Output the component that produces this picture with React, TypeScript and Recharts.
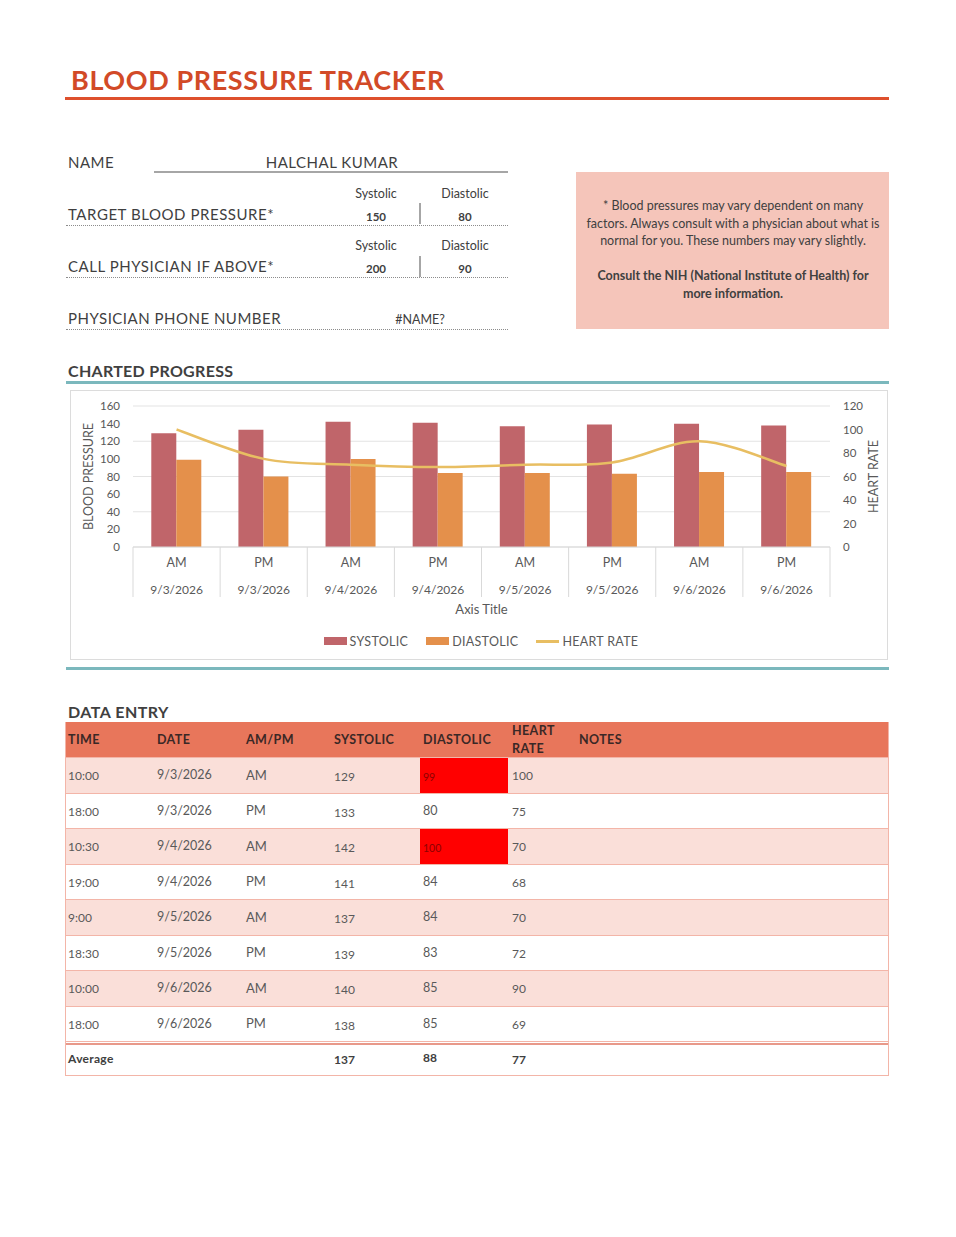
import React from "react";
import {
  ComposedChart,
  Bar,
  Line,
  XAxis,
  YAxis,
  CartesianGrid,
  Legend,
} from "recharts";

// readings
const times = ["10:00", "18:00", "10:30", "19:00", "9:00", "18:30", "10:00", "18:00"];
const dates = ["9/3/2026", "9/3/2026", "9/4/2026", "9/4/2026", "9/5/2026", "9/5/2026", "9/6/2026", "9/6/2026"];
const ampm = ["AM", "PM", "AM", "PM", "AM", "PM", "AM", "PM"];
const systolic = [129, 133, 142, 141, 137, 139, 140, 138];
const diastolic = [99, 80, 100, 84, 84, 83, 85, 85];
const heartRate = [100, 75, 70, 68, 70, 72, 90, 69];
const averages = [137, 88, 77];

const bpTicks = [0, 20, 40, 60, 80, 100, 120, 140, 160];
const hrTicks = [0, 20, 40, 60, 80, 100, 120];

const target = { systolic: 150, diastolic: 80 };
const callAbove = { systolic: 200, diastolic: 90 };

const headers = ["TIME", "DATE", "AM/PM", "SYSTOLIC", "DIASTOLIC", "HEART RATE", "NOTES"];

const SYS_COLOR = "#C0656A";
const DIA_COLOR = "#E4904B";
const HR_COLOR = "#E8BE62";
const FONT = "Lato, 'Open Sans', sans-serif";

const chartData = dates.map((d, i) => ({
  cat: `${d} ${ampm[i]}`,
  systolic: systolic[i],
  diastolic: diastolic[i],
  heart: heartRate[i],
}));

const legendItems = [
  { name: "SYSTOLIC", color: SYS_COLOR, kind: "rect" },
  { name: "DIASTOLIC", color: DIA_COLOR, kind: "rect" },
  { name: "HEART RATE", color: HR_COLOR, kind: "line" },
];

// Excel-style smoothed line (Catmull-Rom as cubic beziers)
function excelSmooth(context: any) {
  let pts: number[][] = [];
  return {
    areaStart() {},
    areaEnd() {},
    lineStart() {
      pts = [];
    },
    point(x: number, y: number) {
      pts.push([+x, +y]);
    },
    lineEnd() {
      if (!pts.length) return;
      context.moveTo(pts[0][0], pts[0][1]);
      for (let i = 0; i < pts.length - 1; i++) {
        const p0 = pts[i - 1] || pts[i];
        const p1 = pts[i];
        const p2 = pts[i + 1];
        const p3 = pts[i + 2] || p2;
        context.bezierCurveTo(
          p1[0] + (p2[0] - p0[0]) / 6,
          p1[1] + (p2[1] - p0[1]) / 6,
          p2[0] - (p3[0] - p1[0]) / 6,
          p2[1] - (p3[1] - p1[1]) / 6,
          p2[0],
          p2[1]
        );
      }
    },
  };
}

type TxtProps = {
  x: number;
  y: number;
  size?: number;
  weight?: number;
  color?: string;
  align?: "left" | "center";
  ls?: number;
  children: React.ReactNode;
};

function Txt({ x, y, size = 13, weight = 400, color = "#404040", align = "left", ls = 0, children }: TxtProps) {
  const lh = Math.round(size * 1.3);
  return (
    <div
      style={{
        position: "absolute",
        left: align === "center" ? x - 200 : x,
        width: align === "center" ? 400 : undefined,
        top: y - lh / 2,
        fontSize: size,
        lineHeight: `${lh}px`,
        fontWeight: weight,
        color,
        letterSpacing: ls,
        textAlign: align,
        whiteSpace: "nowrap",
      }}
    >
      {children}
    </div>
  );
}

function Rule({ x, y, w, h = 1, color, dotted = false }: { x: number; y: number; w: number; h?: number; color: string; dotted?: boolean }) {
  return (
    <div
      style={{
        position: "absolute",
        left: x,
        top: y,
        width: w,
        height: dotted ? 0 : h,
        background: dotted ? undefined : color,
        borderTop: dotted ? `1px dotted ${color}` : undefined,
      }}
    />
  );
}

function CategoryTick(props: any) {
  const { x, y, payload, index } = props;
  const half = payload && payload.offset ? payload.offset : 43.5;
  return (
    <g>
      <line x1={x - half} x2={x - half} y1={y} y2={y + 50} stroke="#D9D9D9" />
      {index === ampm.length - 1 && (
        <line x1={x + half} x2={x + half} y1={y} y2={y + 50} stroke="#D9D9D9" />
      )}
      <text x={x} y={y + 20} textAnchor="middle" fill="#595959" fontSize={12.5}>
        {ampm[index]}
      </text>
      <text x={x} y={y + 47} textAnchor="middle" fill="#595959" fontSize={12}>
        {dates[index]}
      </text>
    </g>
  );
}

function ChartLegend() {
  return (
    <div
      style={{
        display: "flex",
        justifyContent: "center",
        alignItems: "center",
        height: 30,
        fontFamily: FONT,
        fontSize: 12.5,
        color: "#595959",
        paddingLeft: 4,
      }}
    >
      {legendItems.map((it, i) => (
        <div
          key={it.name}
          style={{ display: "flex", alignItems: "center", marginRight: i === legendItems.length - 1 ? 0 : 18 }}
        >
          <div
            style={{
              width: 23,
              height: it.kind === "rect" ? 8 : 3,
              background: it.color,
              marginRight: 3,
            }}
          />
          <span style={{ letterSpacing: 0.3 }}>{it.name}</span>
        </div>
      ))}
    </div>
  );
}

function BPChart() {
  return (
    <ComposedChart
      width={818}
      height={270}
      data={chartData}
      margin={{ top: 16, right: 0, left: 0, bottom: 4 }}
      barCategoryGap="21%"
      barGap={0}
      style={{ fontFamily: FONT }}
    >
      <CartesianGrid vertical={false} stroke="#E3E3E3" yAxisId="bp" />
      <XAxis
        dataKey="cat"
        height={79}
        interval={0}
        tickSize={0}
        tickMargin={0}
        axisLine={{ stroke: "#D9D9D9" }}
        tickLine={false}
        tick={<CategoryTick />}
        label={{ value: "Axis Title", position: "insideBottom", offset: 12, fill: "#595959", fontSize: 13 }}
      />
      <YAxis
        yAxisId="bp"
        width={63}
        domain={[0, 160]}
        ticks={bpTicks}
        axisLine={false}
        tickLine={false}
        tickSize={0}
        tickMargin={13}
        tick={{ fill: "#595959", fontSize: 11.5 }}
        label={{
          value: "BLOOD PRESSURE",
          angle: -90,
          position: "insideLeft",
          offset: 19,
          fill: "#595959",
          fontSize: 12.5,
          style: { textAnchor: "middle" },
        }}
      />
      <YAxis
        yAxisId="hr"
        orientation="right"
        width={58}
        domain={[0, 120]}
        ticks={hrTicks}
        axisLine={false}
        tickLine={false}
        tickSize={0}
        tickMargin={13}
        tick={{ fill: "#595959", fontSize: 11.5 }}
        label={{
          value: "HEART RATE",
          angle: -90,
          position: "insideRight",
          offset: 14,
          fill: "#595959",
          fontSize: 12.5,
          style: { textAnchor: "middle" },
        }}
      />
      <Bar yAxisId="bp" dataKey="systolic" name="SYSTOLIC" fill={SYS_COLOR} isAnimationActive={false} />
      <Bar yAxisId="bp" dataKey="diastolic" name="DIASTOLIC" fill={DIA_COLOR} isAnimationActive={false} />
      <Line
        yAxisId="hr"
        dataKey="heart"
        name="HEART RATE"
        type={excelSmooth as any}
        stroke={HR_COLOR}
        strokeWidth={2.5}
        dot={false}
        activeDot={false}
        isAnimationActive={false}
      />
      <Legend verticalAlign="bottom" height={30} content={() => <ChartLegend />} />
    </ComposedChart>
  );
}

const colX = [68, 157, 246, 334, 423, 512, 579];
const HEAD_TOP = 722;
const HEAD_H = 35;
const ROW_H = 35.5;
const TABLE_L = 65;
const TABLE_W = 824;
const ROW_LINE = "#F3B5A8";

function DataTable() {
  const rowsTop = HEAD_TOP + HEAD_H;
  const avgTop = rowsTop + ROW_H * times.length + 2;
  return (
    <>
      <div style={{ position: "absolute", left: TABLE_L, top: HEAD_TOP, width: TABLE_W, height: HEAD_H, background: "#E8765B" }} />
      {headers.map((h, i) =>
        h === "HEART RATE" ? (
          <React.Fragment key={h}>
            <Txt x={colX[i]} y={731} size={12.5} weight={700} color="#3A2826" ls={0.4}>HEART</Txt>
            <Txt x={colX[i]} y={749} size={12.5} weight={700} color="#3A2826" ls={0.4}>RATE</Txt>
          </React.Fragment>
        ) : (
          <Txt key={h} x={colX[i]} y={740} size={12.5} weight={700} color="#3A2826" ls={0.4}>{h}</Txt>
        )
      )}
      {times.map((t, i) => {
        const top = rowsTop + i * ROW_H;
        const cy = top + 19;
        const diaHigh = diastolic[i] > callAbove.diastolic;
        const sysHigh = systolic[i] > callAbove.systolic;
        return (
          <React.Fragment key={i}>
            <div
              style={{
                position: "absolute",
                left: TABLE_L,
                top,
                width: TABLE_W,
                height: ROW_H,
                background: i % 2 === 0 ? "#FADFD9" : "#FFFFFF",
                borderTop: `1px solid ${ROW_LINE}`,
                boxSizing: "border-box",
              }}
            />
            {sysHigh && (
              <div style={{ position: "absolute", left: 331, top: top + 1, width: 89, height: ROW_H - 1, background: "#FF0000" }} />
            )}
            {diaHigh && (
              <div style={{ position: "absolute", left: 420, top: top + 1, width: 88, height: ROW_H - 1, background: "#FF0000" }} />
            )}
            <Txt x={colX[0]} y={cy} size={12} color="#595959">{t}</Txt>
            <Txt x={colX[1]} y={cy - 1} size={12.5} color="#595959">{dates[i]}</Txt>
            <Txt x={colX[2]} y={cy - 1} size={13} color="#595959">{ampm[i]}</Txt>
            <Txt x={colX[3]} y={cy + 1} size={12} color="#595959">{systolic[i]}</Txt>
            {diaHigh ? (
              <Txt x={colX[4]} y={cy + 1} size={10.5} color="#8E0000">{diastolic[i]}</Txt>
            ) : (
              <Txt x={colX[4]} y={cy - 1} size={12.5} color="#595959">{diastolic[i]}</Txt>
            )}
            <Txt x={colX[5]} y={cy} size={12} color="#595959">{heartRate[i]}</Txt>
          </React.Fragment>
        );
      })}
      <Rule x={TABLE_L} y={avgTop - 2} w={TABLE_W} h={1} color={ROW_LINE} />
      <Rule x={TABLE_L} y={avgTop} w={TABLE_W} h={2} color="#E8998A" />
      <Txt x={colX[0]} y={1059} size={12} weight={700} color="#404040" ls={0.3}>Average</Txt>
      {averages.map((a, i) => (
        <Txt key={i} x={colX[3 + i]} y={1059 + (i === 1 ? -1 : 1)} size={12} weight={700} color="#404040">{a}</Txt>
      ))}
      <div
        style={{
          position: "absolute",
          left: TABLE_L,
          top: HEAD_TOP,
          width: TABLE_W,
          height: 1076 - HEAD_TOP,
          border: `1px solid ${ROW_LINE}`,
          borderTop: "none",
          boxSizing: "border-box",
        }}
      />
    </>
  );
}

export default function App() {
  return (
    <div
      style={{
        position: "absolute",
        left: 0,
        top: 0,
        width: 956,
        height: 1237,
        background: "#FFFFFF",
        fontFamily: FONT,
        overflow: "hidden",
      }}
    >
      {/* title */}
      <Txt x={71} y={79} size={27} weight={700} color="#D24A27" ls={0.6}>BLOOD PRESSURE TRACKER</Txt>
      <Rule x={65} y={97} w={824} h={3} color="#DE502D" />

      {/* personal info */}
      <Txt x={68} y={162} size={15} color="#3F3F3F" ls={0.5}>NAME</Txt>
      <Txt x={332} y={162} size={15} color="#3F3F3F" align="center" ls={0.5}>HALCHAL KUMAR</Txt>
      <Rule x={154} y={171} w={354} h={1.5} color="#A6A6A6" />

      <Txt x={376} y={194} size={12.5} align="center">Systolic</Txt>
      <Txt x={465} y={194} size={12.5} align="center">Diastolic</Txt>
      <Txt x={68} y={214} size={15} color="#3F3F3F" ls={0.55}>TARGET BLOOD PRESSURE*</Txt>
      <Txt x={376} y={216} size={11.5} weight={700} align="center">{target.systolic}</Txt>
      <Txt x={465} y={216} size={11.5} weight={700} align="center">{target.diastolic}</Txt>
      <Rule x={419} y={203} w={2} h={21} color="#A6A6A6" />
      <Rule x={66} y={225} w={442} color="#8C8C8C" dotted />

      <Txt x={376} y={246} size={12.5} align="center">Systolic</Txt>
      <Txt x={465} y={246} size={12.5} align="center">Diastolic</Txt>
      <Txt x={68} y={266} size={15} color="#3F3F3F" ls={0.55}>CALL PHYSICIAN IF ABOVE*</Txt>
      <Txt x={376} y={268} size={11.5} weight={700} align="center">{callAbove.systolic}</Txt>
      <Txt x={465} y={268} size={11.5} weight={700} align="center">{callAbove.diastolic}</Txt>
      <Rule x={419} y={256} w={2} h={21} color="#A6A6A6" />
      <Rule x={66} y={277} w={442} color="#8C8C8C" dotted />

      <Txt x={68} y={318} size={15} color="#3F3F3F" ls={0.5}>PHYSICIAN PHONE NUMBER</Txt>
      <Txt x={420} y={320} size={12.5} align="center">#NAME?</Txt>
      <Rule x={66} y={329} w={442} color="#8C8C8C" dotted />

      {/* note box */}
      <div style={{ position: "absolute", left: 576, top: 172, width: 313, height: 157, background: "#F5C5BA" }} />
      <Txt x={733} y={206} size={12.5} align="center">* Blood pressures may vary dependent on many</Txt>
      <Txt x={733} y={224} size={12.5} align="center">factors.  Always consult with a physician about what is</Txt>
      <Txt x={733} y={241} size={12.5} align="center">normal for you. These numbers may vary slightly.</Txt>
      <Txt x={733} y={276} size={12.5} weight={700} align="center">Consult the NIH (National Institute of Health) for</Txt>
      <Txt x={733} y={294} size={12.5} weight={700} align="center">more information.</Txt>

      {/* chart section */}
      <Txt x={68} y={370} size={16} weight={700} color="#404040" ls={0.3}>CHARTED PROGRESS</Txt>
      <Rule x={66} y={381} w={823} h={3} color="#7BB8BD" />
      <div style={{ position: "absolute", left: 70, top: 390, width: 818, height: 270, border: "1px solid #DCDCDC", boxSizing: "border-box" }} />
      <div style={{ position: "absolute", left: 70, top: 390, width: 818, height: 270 }}>
        <BPChart />
      </div>
      <Rule x={66} y={667} w={823} h={3} color="#7BB8BD" />

      {/* data entry */}
      <Txt x={68} y={711} size={16} weight={700} color="#404040" ls={0.5}>DATA ENTRY</Txt>
      <DataTable />
    </div>
  );
}
